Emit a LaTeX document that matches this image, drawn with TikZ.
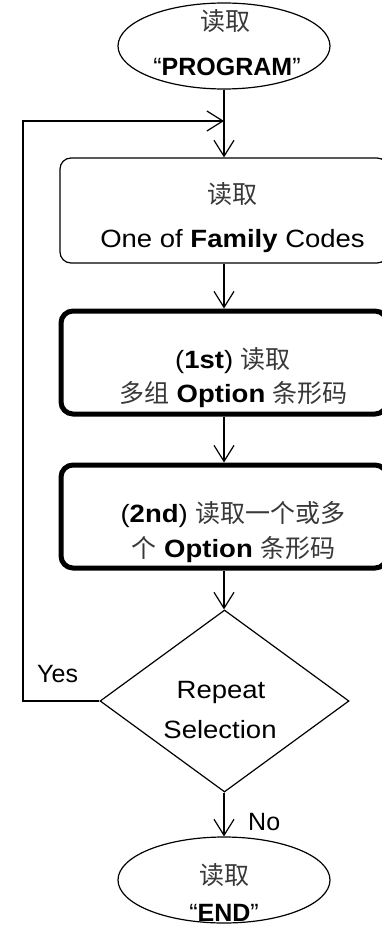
\documentclass[tikz,border=0pt]{standalone}
\usepackage{fontspec}
\setmainfont{Liberation Sans}
\newfontfamily\wide{Liberation Sans}[FakeStretch=1.1]
\newfontfamily\cjk{Noto Sans CJK SC}
\usetikzlibrary{shapes.geometric,arrows.meta}
\definecolor{cjkgray}{gray}{0.22}
\newcommand\zh[1]{{\cjk\color{cjkgray}#1}}
\tikzset{
  thin line/.style={line width=1.2pt},
  ell/.style={ellipse, draw, thin line, minimum width=212pt, minimum height=86pt, inner sep=0pt},
  boxthin/.style={rectangle, draw, thin line, rounded corners=11pt, minimum width=328pt, minimum height=105pt, inner sep=0pt},
  boxthick/.style={rectangle, draw, line width=5pt, rounded corners=12pt, minimum width=326pt, minimum height=103pt, inner sep=0pt},
  dec/.style={diamond, draw, thin line, minimum width=249pt, minimum height=182pt, inner sep=0pt},
  txt/.style={font=\fontsize{25}{30}\selectfont, inner sep=0pt, anchor=base},
  arr/.style={thin line, -{Straight Barb[length=16pt,width=20pt,line width=1.2pt]}},
}
\begin{document}
\begin{tikzpicture}[x=1pt,y=-1pt]
\useasboundingbox (0,0) rectangle (381,928);
% shapes
\node[ell] (start) at (224,46) {};
\node[boxthin] (b1) at (224,210.5) {};
\node[boxthick] (b2) at (224,362.5) {};
\node[boxthick] (b3) at (224,516.5) {};
\node[dec] (dia) at (224.5,701) {};
\node[ell] (stop) at (224,880) {};
% texts
\node[txt] (s1) at (225,31) {\zh{读取}};
\node[txt] (s2) at (227,76) {“\textbf{PROGRAM}”};
\node[txt] (b1a) at (232.5,203) {\zh{读取}};
\node[txt] (b1b) at (232.5,247) {\wide One of \textbf{Family} Codes};
\node[txt] (b2a) at (233,368) {\wide(\textbf{1st}) \zh{读取}};
\node[txt] (b2b) at (233.5,402) {\wide\zh{多组} \textbf{Option} \zh{条形码}};
\node[txt] (b3a) at (233,522) {\wide(\textbf{2nd}) \zh{读取一个或多}};
\node[txt] (b3b) at (233.5,557) {\wide\zh{个} \textbf{Option} \zh{条形码}};
\node[txt] (d1) at (221,698) {\wide Repeat};
\node[txt] (d2) at (220,738) {\wide Selection};
\node[txt] (e1) at (224,884) {\zh{读取}};
\node[txt] (e2) at (224,921) {“\textbf{END}”};
\node[txt, anchor=base west] (yes) at (37,682) {Yes};
\node[txt, anchor=base west] (no) at (248,830) {No};
% connectors
\coordinate (join) at (224,121);
\coordinate (loopx) at (23,0);
\draw[arr] (start.south) -- (b1.north);
\draw[arr] (dia.west) -- (dia.west -| loopx) |- (join);
\draw[arr] (b1.south) -- (b2.north);
\draw[arr] (b2.south) -- (b3.north);
\draw[arr] (b3.south) -- (b3.south |- dia.north);
\draw[arr] (dia.south -| b3.south) -- (stop.north);
\end{tikzpicture}
\end{document}
